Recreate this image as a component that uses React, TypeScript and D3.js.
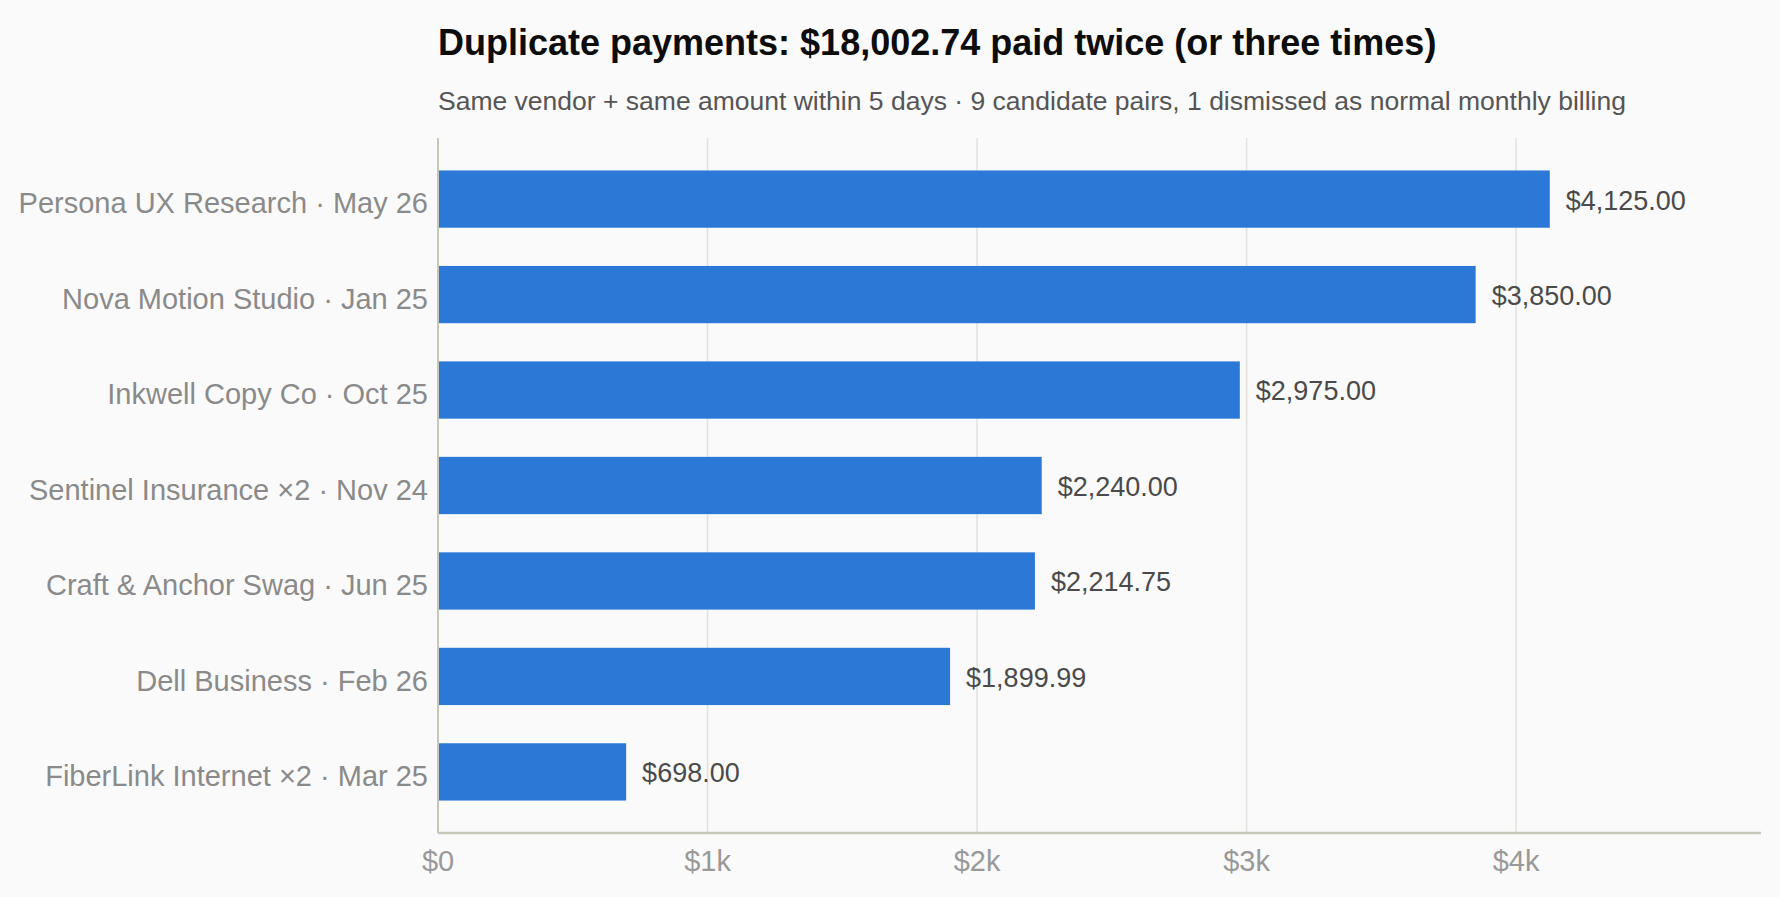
import React, { useRef, useEffect } from 'react';
import * as d3 from 'd3';

const vendors = [
  'Persona UX Research · May 26',
  'Nova Motion Studio · Jan 25',
  'Inkwell Copy Co · Oct 25',
  'Sentinel Insurance ×2 · Nov 24',
  'Craft & Anchor Swag · Jun 25',
  'Dell Business · Feb 26',
  'FiberLink Internet ×2 · Mar 25',
];
const amounts = [4125.0, 3850.0, 2975.0, 2240.0, 2214.75, 1899.99, 698.0];
const xTicks = [0, 1000, 2000, 3000, 4000];

const title = 'Duplicate payments: $18,002.74 paid twice (or three times)';
const subtitle =
  'Same vendor + same amount within 5 days · 9 candidate pairs, 1 dismissed as normal monthly billing';

const FONT = '"Liberation Sans", Arial, Helvetica, sans-serif';

const App: React.FC = () => {
  const svgRef = useRef<SVGSVGElement | null>(null);
  const width = 1780;
  const height = 897;
  const marginTop = 138;
  const marginRight = 19;
  const marginBottom = 64;
  const marginLeft = 438;

  useEffect(() => {
    document.body.style.margin = '0';
    document.body.style.background = '#fafafa';

    const svg = d3.select(svgRef.current);
    svg.selectAll('*').remove();

    const innerWidth = width - marginLeft - marginRight;
    const innerHeight = height - marginTop - marginBottom;

    svg.append('rect').attr('width', width).attr('height', height).attr('fill', '#fafafa');

    svg.append('text')
      .attr('x', marginLeft)
      .attr('y', 55)
      .attr('font-family', FONT)
      .attr('font-size', 36)
      .attr('font-weight', 700)
      .attr('fill', '#0d0d0d')
      .text(title);

    svg.append('text')
      .attr('x', marginLeft)
      .attr('y', 110)
      .attr('font-family', FONT)
      .attr('font-size', 26.5)
      .attr('fill', '#555')
      .text(subtitle);

    const g = svg.append('g').attr('transform', `translate(${marginLeft},${marginTop})`);

    const x = d3.scaleLinear()
      .domain([0, (d3.max(amounts) as number) * 1.19])
      .range([0, innerWidth]);

    const y = d3.scaleBand<string>()
      .domain(vendors)
      .range([0, innerHeight])
      .paddingInner(0.4)
      .paddingOuter(0.34);

    // grid lines
    g.append('g')
      .selectAll('line')
      .data(xTicks.slice(1))
      .join('line')
      .attr('x1', d => x(d))
      .attr('x2', d => x(d))
      .attr('y1', 0)
      .attr('y2', innerHeight)
      .attr('stroke', '#e2e2dc')
      .attr('stroke-width', 1.5);

    // bars
    g.append('g')
      .selectAll('rect')
      .data(amounts)
      .join('rect')
      .attr('x', 0)
      .attr('y', (_, i) => y(vendors[i]) as number)
      .attr('width', d => x(d))
      .attr('height', y.bandwidth())
      .attr('fill', '#2b78d6');

    // value labels
    g.append('g')
      .selectAll('text')
      .data(amounts)
      .join('text')
      .attr('x', d => x(d) + 16)
      .attr('y', (_, i) => (y(vendors[i]) as number) + y.bandwidth() / 2 + 1)
      .attr('dy', '0.35em')
      .attr('font-family', FONT)
      .attr('font-size', 27)
      .attr('fill', '#4a4a4a')
      .text(d => '$' + d3.format(',.2f')(d));

    // category labels
    g.append('g')
      .selectAll('text')
      .data(vendors)
      .join('text')
      .attr('x', -10)
      .attr('y', d => (y(d) as number) + y.bandwidth() / 2 + 4)
      .attr('dy', '0.35em')
      .attr('text-anchor', 'end')
      .attr('font-family', FONT)
      .attr('font-size', 29)
      .attr('fill', '#8a8a8a')
      .text(d => d);

    // axes lines
    g.append('line')
      .attr('x1', 0).attr('x2', 0)
      .attr('y1', 0).attr('y2', innerHeight)
      .attr('stroke', '#c6c6ba')
      .attr('stroke-width', 2);

    g.append('line')
      .attr('x1', 0).attr('x2', innerWidth)
      .attr('y1', innerHeight).attr('y2', innerHeight)
      .attr('stroke', '#c6c6ba')
      .attr('stroke-width', 2.5);

    // tick labels
    g.append('g')
      .selectAll('text')
      .data(xTicks)
      .join('text')
      .attr('x', d => x(d))
      .attr('y', innerHeight + 38)
      .attr('text-anchor', 'middle')
      .attr('font-family', FONT)
      .attr('font-size', 29)
      .attr('fill', '#999')
      .text(d => (d === 0 ? '$0' : `$${d / 1000}k`));

    svg.attr('width', width).attr('height', height);
  }, []);

  return <svg ref={svgRef} style={{ display: 'block' }}></svg>;
};

export default App;
